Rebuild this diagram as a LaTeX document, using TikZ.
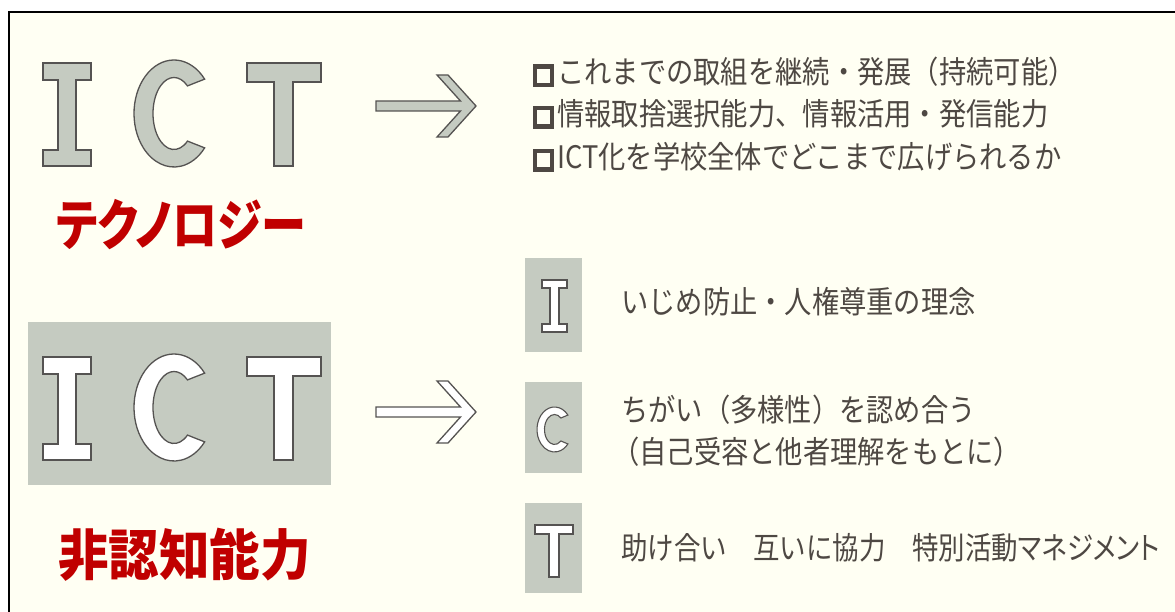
\documentclass[tikz,border=0pt]{standalone}
\usepackage{fontspec}
\newfontfamily\jp[RawFeature=+palt]{Noto Sans CJK JP}
\newfontfamily\jpfw{Noto Sans CJK JP}
\definecolor{cream}{HTML}{FFFFF3}
\definecolor{sage}{HTML}{C5CBC1}
\definecolor{outl}{HTML}{555352}
\definecolor{titlered}{HTML}{C00000}
\definecolor{txt}{HTML}{4E4843}
\tikzset{
  letter/.style={draw=outl, line width=1.3pt, line join=miter},
  grayletter/.style={letter, fill=sage},
  whiteletter/.style={letter, fill=white},
  bigarrow/.style={draw=outl, line width=1.3pt},
  title/.style={text=titlered, font=\jp\bfseries\fontsize{55}{60}\selectfont, inner sep=0pt, anchor=west},
  body/.style={text=txt, font=\jpfw\fontsize{31}{34}\selectfont, inner sep=0pt, anchor=west, xscale=0.88},
}
\newcommand\bul{{\setlength\fboxrule{4.2pt}\setlength\fboxsep{0pt}\raisebox{1pt}{\fbox{\rule{15pt}{0pt}\rule{0pt}{14pt}}}\hspace{4pt}}}
\newcommand\shapeBigI{(0,0) -- (48,0) -- (48,17) -- (33,17) -- (33,87) -- (48,87) -- (48,103) -- (0,103) -- (0,87) -- (15,87) -- (15,17) -- (0,17) -- cycle}
\newcommand\shapeBigT{(0,0) -- (74,0) -- (74,19) -- (46,19) -- (46,103) -- (27,103) -- (27,19) -- (0,19) -- cycle}
\newcommand\shapeBigC{(0,0) ++(-40:40 and 53.5) arc[start angle=-40, end angle=-320, x radius=40, y radius=53.5] -- (-310:21 and 36) arc[start angle=-310, end angle=-50, x radius=21, y radius=36] -- cycle}
\newcommand\shapeSmI{(0,0) -- (25,0) -- (25,8) -- (17,8) -- (17,44) -- (25,44) -- (25,52) -- (0,52) -- (0,44) -- (8,44) -- (8,8) -- (0,8) -- cycle}
\newcommand\shapeSmT{(0,0) -- (38,0) -- (38,9) -- (24,9) -- (24,52) -- (14,52) -- (14,9) -- (0,9) -- cycle}
\newcommand\shapeSmC{(0,0) ++(-40:17.5 and 22.5) arc[start angle=-40, end angle=-320, x radius=17.5, y radius=22.5] -- (-310:10 and 15) arc[start angle=-310, end angle=-50, x radius=10, y radius=15] -- cycle}
\newcommand\shapeArrow{(0,-5) -- (84.5,-5) -- (61,-31) -- (72,-31) -- (100,0) -- (72,31) -- (61,31) -- (84.5,5) -- (0,5) -- cycle}
\begin{document}
\begin{tikzpicture}[x=1pt,y=-1pt]
\useasboundingbox (0,0) rectangle (1175,612);
\fill[white] (0,0) rectangle (1175,612);
\draw[fill=cream, line width=1.6pt] (9,12) rectangle (1190,630);

% top ICT (technology)
\begin{scope}[shift={(43,63)}]\draw[grayletter] \shapeBigI;\end{scope}
\begin{scope}[shift={(174,113.5)}]\draw[grayletter] \shapeBigC;\end{scope}
\begin{scope}[shift={(247,63)}]\draw[grayletter] \shapeBigT;\end{scope}
\node[title, xscale=0.82] (tech) at (56,225) {テクノロジー};

% top arrow
\begin{scope}[shift={(376,106)}]\draw[bigarrow, fill=sage] \shapeArrow;\end{scope}

% top bullet list
\node[body] (l1) at (533,72) {\bul これまでの取組を継続・発展（持続可能）};
\node[body] (l2) at (533,114) {\bul 情報取捨選択能力、情報活用・発信能力};
\node[body] (l3) at (533,157) {\bul ICT化を学校全体でどこまで広げられるか};

% bottom ICT (non-cognitive)
\fill[sage] (28,322) rectangle (331,485);
\begin{scope}[shift={(43,357)}]\draw[whiteletter] \shapeBigI;\end{scope}
\begin{scope}[shift={(174,407.5)}]\draw[whiteletter] \shapeBigC;\end{scope}
\begin{scope}[shift={(247,357)}]\draw[whiteletter] \shapeBigT;\end{scope}
\node[title, xscale=0.92] (noncog) at (58,555) {非認知能力};

% bottom arrow
\begin{scope}[shift={(376,412)}]\draw[bigarrow, fill=white] \shapeArrow;\end{scope}

% tags
\fill[sage] (525,258) rectangle (582,352);
\fill[sage] (525,382) rectangle (582,473);
\fill[sage] (525,503) rectangle (582,593);
\begin{scope}[shift={(542,280)}]\draw[whiteletter, line width=1.1pt] \shapeSmI;\end{scope}
\begin{scope}[shift={(554.5,429.5)}]\draw[whiteletter, line width=1.1pt] \shapeSmC;\end{scope}
\begin{scope}[shift={(535,525)}]\draw[whiteletter, line width=1.1pt] \shapeSmT;\end{scope}

\node[body] (i1) at (621,302) {いじめ防止・人権尊重の理念};
\node[body] (c1) at (621,410) {ちがい（多様性）を認め合う};
\node[body] (c2) at (612,452) {（自己受容と他者理解をもとに）};
\node[body, xscale=0.97] (t1) at (621,548) {助け合い　互いに協力　特別活動{\jp マネジメント}};
\end{tikzpicture}
\end{document}
